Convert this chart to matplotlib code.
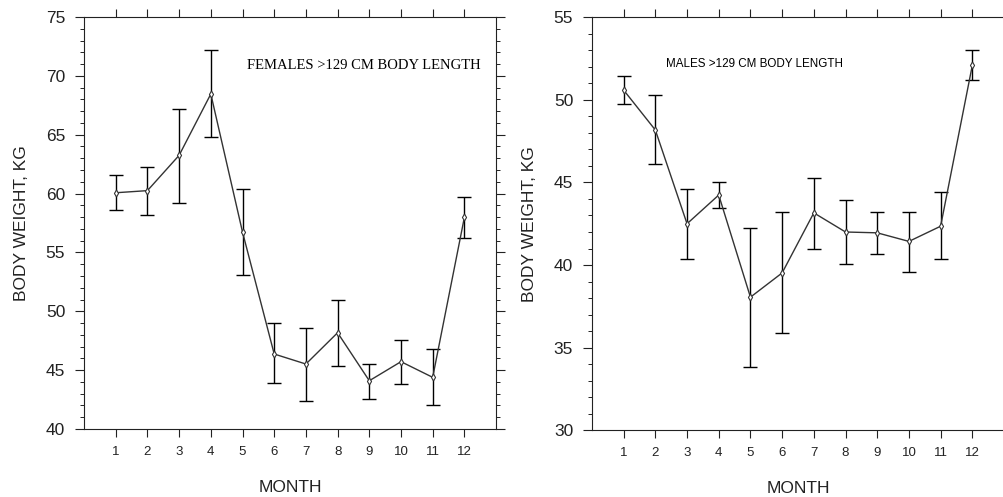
import numpy as np
import matplotlib
matplotlib.use("Agg")
import matplotlib.pyplot as plt
from matplotlib.ticker import MultipleLocator

# monthly body weight, mean with upper/lower bar ends
months = list(range(1, 13))

fem_mean = [60.07, 60.25, 63.25, 68.46, 56.73, 46.37, 45.52, 48.18, 44.10, 45.72, 44.39, 57.98]
fem_hi = [61.6, 62.23, 67.2, 72.2, 60.36, 48.98, 48.6, 50.96, 45.52, 47.56, 46.77, 59.68]
fem_lo = [58.6, 58.15, 59.2, 64.83, 53.1, 43.93, 42.4, 45.35, 42.57, 43.82, 42.0, 56.22]

male_mean = [50.6, 48.18, 42.5, 44.24, 38.05, 39.52, 43.16, 42.0, 41.95, 41.43, 42.35, 52.1]
male_hi = [51.45, 50.28, 44.6, 45.0, 42.26, 43.2, 45.25, 43.94, 43.2, 43.22, 44.4, 53.0]
male_lo = [49.75, 46.1, 40.37, 43.43, 33.8, 35.87, 41.0, 40.07, 40.67, 39.6, 40.37, 51.2]

plt.rcParams['font.family'] = ['Liberation Sans', 'DejaVu Sans']

fig = plt.figure(figsize=(10.04, 4.97), dpi=100)
ax1 = fig.add_axes([0.0837, 0.1368, 0.4104, 0.829])
ax2 = fig.add_axes([0.5896, 0.1348, 0.4104, 0.830])


def panel(ax, mean, hi, lo, ylim, label_text, label_xy, serif, fsize, right_spine=True):
    mean = np.array(mean)
    yerr = [mean - np.array(lo), np.array(hi) - mean]
    ax.errorbar(months, mean, yerr=yerr, fmt='none', ecolor='black',
                elinewidth=1, capsize=5, capthick=1)
    ax.plot(months, mean, color='#333333', lw=1, marker='d', markersize=3.5,
            markerfacecolor='white', markeredgecolor='#333333', markeredgewidth=0.8)
    ax.set_xlim(0, 13)
    ax.set_ylim(*ylim)
    ax.set_xticks(months)
    ax.yaxis.set_major_locator(MultipleLocator(5))
    ax.yaxis.set_minor_locator(MultipleLocator(1))
    ax.tick_params(axis='x', direction='out', length=6, top=True, labelsize=9.5,
                   pad=6, colors='#222222')
    ax.tick_params(axis='y', which='major', direction='out', length=6.5,
                   right=right_spine, labelsize=12.5, pad=7, colors='#222222')
    ax.tick_params(axis='y', which='minor', direction='out', length=3, right=right_spine)
    if not right_spine:
        ax.spines['right'].set_visible(False)
    for s in ax.spines.values():
        s.set_color('#222222')
    ax.set_xlabel('MONTH', fontsize=12.5, labelpad=16, color='#222222')
    ax.set_ylabel('BODY WEIGHT, KG', fontsize=12.5, labelpad=12, color='#222222')
    fam = ['Liberation Serif'] if serif else ['Liberation Sans']
    ax.text(label_xy[0], label_xy[1], label_text, transform=ax.transAxes,
            fontsize=fsize, family=fam, va='center', ha='left', color='black')


panel(ax1, fem_mean, fem_hi, fem_lo, (40, 75), 'FEMALES >129 CM BODY LENGTH',
      (0.395, 0.883), True, 10.5)
panel(ax2, male_mean, male_hi, male_lo, (30, 55), 'MALES >129 CM BODY LENGTH',
      (0.18, 0.888), False, 8.4, right_spine=False)

fig.savefig('out.png', dpi=100)
